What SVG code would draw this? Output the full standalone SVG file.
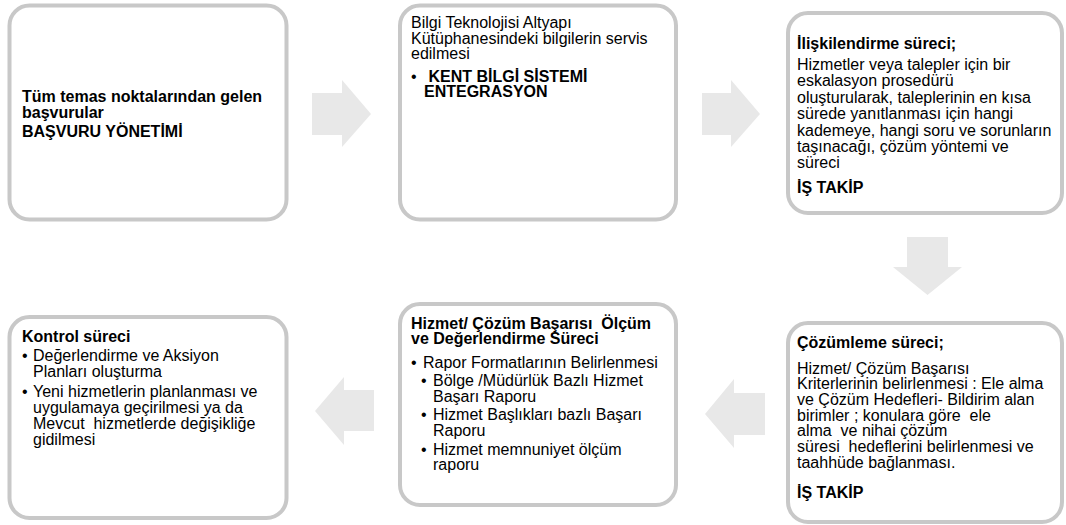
<svg xmlns="http://www.w3.org/2000/svg" width="1066" height="525" viewBox="0 0 1066 525">
<style>
.box{fill:#fff;stroke:#c8c8c8;stroke-width:4}
.arr{fill:#e8e8e8;stroke:none}
text{font-family:"Liberation Sans",Arial,sans-serif;font-size:16px;fill:#000}
.b{font-weight:bold}
</style>
<rect width="1066" height="525" fill="#fff"/>
<g id="connectors">
<polygon class="arr" points="312,93 342,93 342,80 371,114 342,147 342,135 312,135"/>
<polygon class="arr" points="702,93 731,93 731,80 760,114 731,147 731,135 702,135"/>
<polygon class="arr" points="907,237 948,237 948,267 962,267 927.5,295 893,267 907,267"/>
<polygon class="arr" points="765,393 734,393 734,379 705,414 734,448 734,435 765,435"/>
<polygon class="arr" points="374,390 344,390 344,377 315,411 344,445 344,431 374,431"/>
</g>
<g id="node1">
<rect class="box" x="9.5" y="5.5" width="277" height="214" rx="20"/>
<text class="b" x="22" y="102">Tüm temas noktalarından gelen</text>
<text class="b" x="22" y="118">başvurular</text>
<text class="b" x="22" y="136.5">BAŞVURU YÖNETİMİ</text>
</g>
<g id="node2">
<rect class="box" x="400" y="5.5" width="276" height="214" rx="20"/>
<text x="411" y="28.3">Bilgi Teknolojisi Altyapı</text>
<text x="411" y="43.5">Kütüphanesindeki bilgilerin servis</text>
<text x="411" y="58.7">edilmesi</text>
<text x="411" y="81.5">•</text>
<text class="b" x="424" y="81.5" xml:space="preserve"> KENT BİLGİ SİSTEMİ</text>
<text class="b" x="424" y="97">ENTEGRASYON</text>
</g>
<g id="node3">
<rect class="box" x="788" y="13" width="274" height="200" rx="20"/>
<text class="b" x="797" y="48.5">İlişkilendirme süreci;</text>
<text x="797" y="70">Hizmetler veya talepler için bir</text>
<text x="797" y="86.4">eskalasyon prosedürü</text>
<text x="797" y="102.8">oluşturularak, taleplerinin en kısa</text>
<text x="797" y="119.2">sürede yanıtlanması için hangi</text>
<text x="797" y="135.6">kademeye, hangi soru ve sorunların</text>
<text x="797" y="152">taşınacağı, çözüm yöntemi ve</text>
<text x="797" y="168.4">süreci</text>
<text class="b" x="797" y="192.5">İŞ TAKİP</text>
</g>
<g id="node4">
<rect class="box" x="9.5" y="317" width="277" height="201" rx="20"/>
<text class="b" x="22" y="341.5">Kontrol süreci</text>
<text x="22" y="361">•</text>
<text x="33" y="361">Değerlendirme ve Aksiyon</text>
<text x="33" y="377">Planları oluşturma</text>
<text x="22" y="396.5">•</text>
<text x="33" y="396.5">Yeni hizmetlerin planlanması ve</text>
<text x="33" y="412.6">uygulamaya geçirilmesi ya da</text>
<text x="33" y="428.7" xml:space="preserve">Mevcut  hizmetlerde değişikliğe</text>
<text x="33" y="444.8">gidilmesi</text>
</g>
<g id="node5">
<rect class="box" x="400" y="304" width="276" height="201" rx="20"/>
<text class="b" x="411" y="328.5" xml:space="preserve">Hizmet/ Çözüm Başarısı  Ölçüm</text>
<text class="b" x="411" y="344">ve Değerlendirme Süreci</text>
<text x="411" y="367.5">•</text>
<text x="423" y="367.5">Rapor Formatlarının Belirlenmesi</text>
<text x="421" y="386">•</text>
<text x="433" y="386">Bölge /Müdürlük Bazlı Hizmet</text>
<text x="433" y="401.5">Başarı Raporu</text>
<text x="421" y="420">•</text>
<text x="433" y="420">Hizmet Başlıkları bazlı Başarı</text>
<text x="433" y="435.5">Raporu</text>
<text x="421" y="454.5">•</text>
<text x="433" y="454.5">Hizmet memnuniyet ölçüm</text>
<text x="433" y="470">raporu</text>
</g>
<g id="node6">
<rect class="box" x="788" y="323" width="274" height="199" rx="20"/>
<text class="b" x="797" y="347.5">Çözümleme süreci;</text>
<text x="797" y="373.5">Hizmet/ Çözüm Başarısı</text>
<text x="797" y="389.2">Kriterlerinin belirlenmesi : Ele alma</text>
<text x="797" y="404.9">ve Çözüm Hedefleri- Bildirim alan</text>
<text x="797" y="420.6" xml:space="preserve">birimler ; konulara göre  ele</text>
<text x="797" y="436.3" xml:space="preserve">alma  ve nihai çözüm</text>
<text x="797" y="452" xml:space="preserve">süresi  hedeflerini belirlenmesi ve</text>
<text x="797" y="467.7">taahhüde bağlanması.</text>
<text class="b" x="797" y="497.5">İŞ TAKİP</text>
</g>
</svg>
